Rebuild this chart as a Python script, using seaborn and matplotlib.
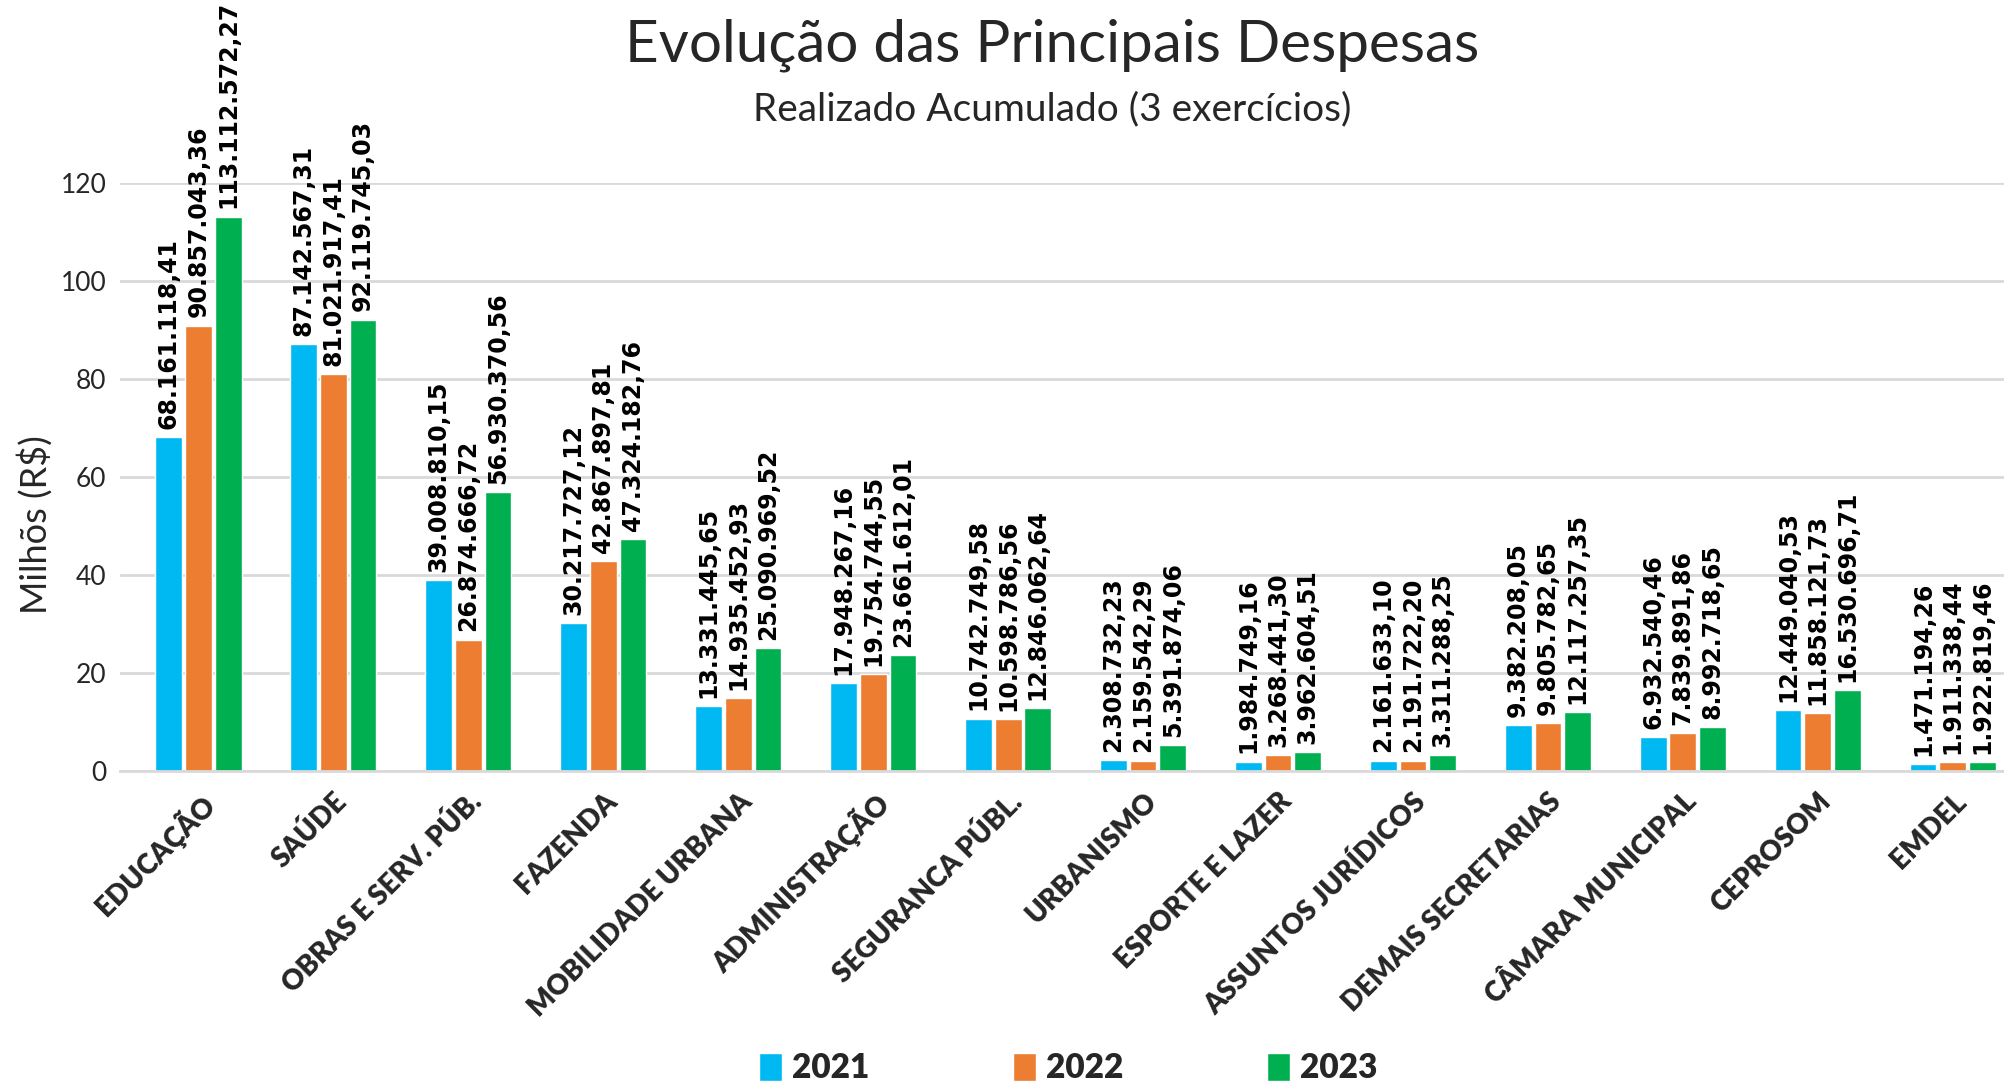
import numpy as np
import matplotlib
matplotlib.use("Agg")
import matplotlib.pyplot as plt
import seaborn as sns
import pandas as pd
from matplotlib.patches import Patch

# Secretarias e valores realizados (R$)
categorias = ["EDUCAÇÃO", "SAÚDE", "OBRAS E SERV. PÚB.", "FAZENDA", "MOBILIDADE URBANA",
              "ADMINISTRAÇÃO", "SEGURANCA PÚBL.", "URBANISMO", "ESPORTE E LAZER",
              "ASSUNTOS JURÍDICOS", "DEMAIS SECRETARIAS", "CÂMARA MUNICIPAL",
              "CEPROSOM", "EMDEL"]
anos = ["2021", "2022", "2023"]

valores_2021 = [68161118.41, 87142567.31, 39008810.15, 30217727.12, 13331445.65,
                17948267.16, 10742749.58, 2308732.23, 1984749.16, 2161633.10,
                9382208.05, 6932540.46, 12449040.53, 1471194.26]
valores_2022 = [90857043.36, 81021917.41, 26874666.72, 42867897.81, 14935452.93,
                19754744.55, 10598786.56, 2159542.29, 3268441.30, 2191722.20,
                9805782.65, 7839891.86, 11858121.73, 1911338.44]
valores_2023 = [113112572.27, 92119745.03, 56930370.56, 47324182.76, 25090969.52,
                23661612.01, 12846062.64, 5391874.06, 3962604.51, 3311288.25,
                12117257.35, 8992718.65, 16530696.71, 1922819.46]

cores = ["#00B9F2", "#ED7D31", "#00B050"]


def formato_br(v):
    # 1,234,567.89 -> 1.234.567,89
    s = f"{v:,.2f}"
    return s.replace(",", "X").replace(".", ",").replace("X", ".")


df = pd.DataFrame({
    "categoria": categorias * 3,
    "ano": [a for a in anos for _ in categorias],
    "valor": valores_2021 + valores_2022 + valores_2023,
})
df["milhoes"] = df["valor"] / 1e6

sns.set_style("white")
plt.rcParams["font.family"] = ["Lato", "DejaVu Sans"]

fig = plt.figure(figsize=(20.04, 10.88), dpi=100)
ax = fig.add_axes([0.06, 0.291, 0.94, 0.541])

sns.barplot(data=df, x="categoria", y="milhoes", hue="ano", palette=cores,
            saturation=1, width=0.66, gap=0.1, edgecolor="white", linewidth=1,
            legend=False, ax=ax)

# rótulos de dados
for cont, vals in zip(ax.containers, [valores_2021, valores_2022, valores_2023]):
    ax.bar_label(cont, labels=[formato_br(v) for v in vals], rotation=90, padding=6,
                 fontsize=17, fontweight="bold", family="DejaVu Sans", color="black",
                 clip_on=False)

ax.set_ylim(0, 120)
ax.set_xlim(-0.58, 13.38)
ax.set_yticks(range(0, 121, 20))
ax.yaxis.grid(True, color="#D9D9D9", linewidth=2)
ax.set_axisbelow(True)
for s in ["left", "right", "top"]:
    ax.spines[s].set_visible(False)
ax.spines["bottom"].set_color("#D9D9D9")
ax.spines["bottom"].set_linewidth(2)
ax.tick_params(axis="both", length=0)
ax.tick_params(axis="y", labelsize=19, pad=10)
ax.set_xticks(range(len(categorias)))
ax.set_xticklabels(categorias, rotation=45, ha="right", rotation_mode="anchor",
                   fontsize=20, fontweight="heavy")
ax.tick_params(axis="x", pad=12)
ax.set_xlabel("")
ax.set_ylabel("Milhõs (R$)", fontsize=26)
ax.yaxis.set_label_coords(-0.036, 0.42)

fig.text(0.525, 0.958, "Evolução das Principais Despesas", ha="center", va="center",
         fontsize=42)
fig.text(0.525, 0.9, "Realizado Acumulado (3 exercícios)", ha="center", va="center",
         fontsize=28)

handles = [Patch(facecolor=c, label=a) for c, a in zip(cores, anos)]
fig.legend(handles=handles, loc="center", bbox_to_anchor=(0.533, 0.018), ncol=3,
           frameon=False, prop={"size": 24, "weight": "heavy"}, handlelength=0.7,
           handleheight=0.9, handletextpad=0.3, columnspacing=4.3)

fig.savefig("out.png", dpi=100)
